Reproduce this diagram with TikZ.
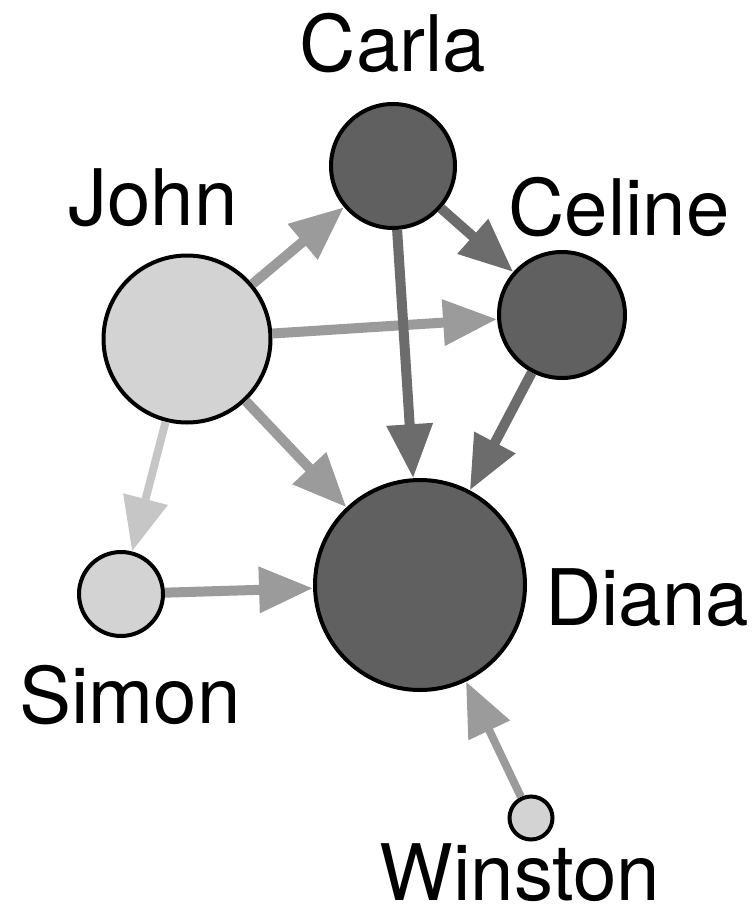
\documentclass[tikz,border=0pt]{standalone}
\usepackage{fontspec}
\setmainfont{TeX Gyre Heros}
\usepackage{xcolor}
\usetikzlibrary{positioning, arrows.meta}

\definecolor{nodedark}{HTML}{606060}
\definecolor{nodelight}{HTML}{D3D3D3}
\definecolor{edgedark}{HTML}{6C6C6C}
\definecolor{edgemid}{HTML}{9B9B9B}
\definecolor{edgelight}{HTML}{C6C6C6}

\begin{document}
\begin{tikzpicture}[x=1pt, y=-1pt,
    darknode/.style={circle, draw, line width=4pt, fill=nodedark, inner sep=0pt},
    lightnode/.style={circle, draw, line width=4pt, fill=nodelight, inner sep=0pt},
    nametag/.style={font=\fontsize{78}{80}\selectfont, inner sep=0pt},
    arc/.style={-{Triangle[length=54pt, width=44pt]}, line width=10pt}
]
\useasboundingbox (0,0) rectangle (754,920);

% Vertices
\node[darknode, minimum size=124pt] (carla) at (393,166) {};
\node[darknode, minimum size=126pt] (celine) at (562,315) {};
\node[lightnode, minimum size=167pt] (john) at (187,339) {};
\node[darknode, minimum size=210pt] (diana) at (420,585) {};
\node[lightnode, minimum size=84pt] (simon) at (121,594) {};
\node[lightnode, minimum size=43pt] (winston) at (531,818) {};

% Names
\node[nametag, anchor=base] (carlaName) at (393,72) {Carla};
\node[nametag, anchor=base] (johnName) at (153,225) {John};
\node[nametag, anchor=base] (celineName) at (619,235) {Celine};
\node[nametag, anchor=base west] (dianaName) at (545,625) {Diana};
\node[nametag, anchor=base] (simonName) at (130,723) {Simon};
\node[nametag, anchor=base] (winstonName) at (520,900) {Winston};

% Arcs from John
\draw[arc, edgemid] (john) -- (carla);
\draw[arc, edgemid] (john) -- (celine);
\draw[arc, edgemid] (john) -- (diana);
\draw[arc, edgelight, line width=8pt] (john) -- (simon);

% Arcs from the dark group
\draw[arc, edgedark] (carla) -- (celine);
\draw[arc, edgedark] (carla) -- (diana);
\draw[arc, edgedark] (celine) -- (diana);

% Arcs into Diana
\draw[arc, edgemid] (simon) -- (diana);
\draw[arc, edgemid, line width=8pt] (winston) -- (diana);

\end{tikzpicture}
\end{document}
